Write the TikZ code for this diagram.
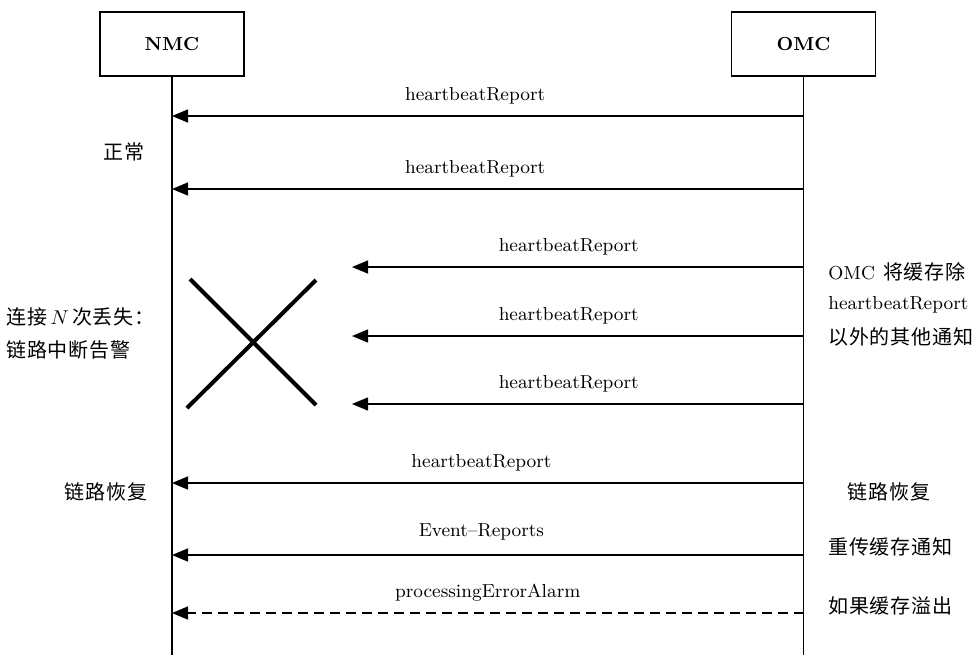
\documentclass[tikz,border=0pt]{standalone}
\usepackage{fontspec}
\usetikzlibrary{arrows.meta}
\newfontfamily\cjk[LetterSpace=4]{Noto Sans CJK SC}
\begin{document}
\begin{tikzpicture}[x=0.5pt,y=-0.5pt,
  actor/.style={draw,line width=0.7pt,minimum width=72pt,minimum height=32pt,inner sep=0pt,font=\bfseries\fontsize{9.4}{11}\selectfont},
  life/.style={line width=0.7pt},
  msg/.style={line width=0.7pt,-{Triangle[length=8pt,width=6.5pt]}},
  lbl/.style={font=\fontsize{9.4}{11}\selectfont,inner sep=0pt},
  note/.style={font=\cjk\fontsize{10}{12}\selectfont,inner sep=0pt},
  cross/.style={line width=2pt}]
\useasboundingbox (0,0) rectangle (979,655);
\node[actor] (nmc) at (172,44) {NMC};
\node[actor] (omc) at (803.5,44) {OMC};
\coordinate (nend) at (172,655);
\coordinate (oend) at (803.5,655);
\draw[life] (nmc.south) -- (nend);
\draw[life] (omc.south) -- (oend);
% message endpoints
\foreach \i/\y in {1/116,2/189,6/483,7/555,8/613}{
  \coordinate (o\i) at (803.5,\y);
  \coordinate (n\i) at (172,\y);
}
\foreach \i/\y in {3/267,4/336,5/404}{
  \coordinate (o\i) at (803.5,\y);
  \coordinate (n\i) at (352,\y);
}
\draw[msg] (o1) -- (n1) node[lbl,pos=0.52,above=5.5pt] (l1) {heartbeatReport};
\draw[msg] (o2) -- (n2) node[lbl,pos=0.52,above=5.5pt] (l2) {heartbeatReport};
\draw[msg] (o3) -- (n3) node[lbl,pos=0.52,above=5.5pt] (l3) {heartbeatReport};
\draw[msg] (o4) -- (n4) node[lbl,pos=0.52,above=5.5pt] (l4) {heartbeatReport};
\draw[msg] (o5) -- (n5) node[lbl,pos=0.52,above=5.5pt] (l5) {heartbeatReport};
\draw[msg] (o6) -- (n6) node[lbl,pos=0.51,above=5.5pt] (l6) {heartbeatReport};
\draw[msg] (o7) -- (n7) node[lbl,pos=0.51,above=7pt] (l7) {Event--Reports};
\draw[msg,dashed,dash pattern=on 5pt off 3pt] (o8) -- (n8) node[lbl,pos=0.50,above=5.5pt] (l8) {processingErrorAlarm};
% cross
\coordinate (xa) at (190,279);
\coordinate (xb) at (316,405);
\coordinate (xc) at (187,408);
\coordinate (xd) at (316,280);
\draw[cross] (xa) -- (xb);
\draw[cross] (xc) -- (xd);
% notes
\node[note] (t1) at (124,152) {正常};
\node[note,anchor=west] (t2) at (6,317) {连接\,$N$\,次丢失：};
\node[note,anchor=west] (t3) at (6,350) {链路中断告警};
\node[note] (t4) at (106,492) {链路恢复};
\node[note,anchor=west] (r1) at (828,272) {{\rmfamily\fontsize{9.4}{11}\selectfont OMC}\hspace{4pt}将缓存除};
\node[lbl,anchor=west] (r2) at (828,305) {heartbeatReport};
\node[note,anchor=west] (r3) at (828,337) {以外的其他通知};
\node[note] (r4) at (889,492) {链路恢复};
\node[note,anchor=west] (r5) at (828,547) {重传缓存通知};
\node[note,anchor=west] (r6) at (828,606) {如果缓存溢出};
\end{tikzpicture}
\end{document}
